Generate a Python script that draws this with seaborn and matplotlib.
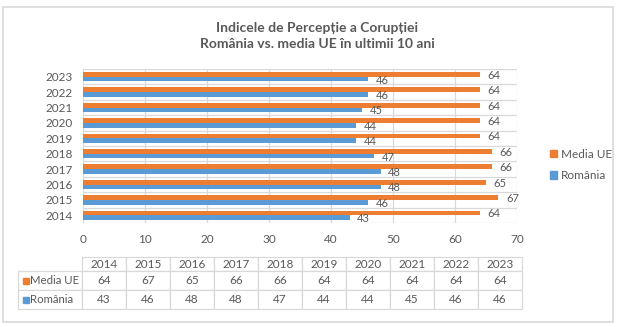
import matplotlib
matplotlib.use("Agg")
import matplotlib.pyplot as plt
import seaborn as sns
import pandas as pd
from matplotlib.patches import Rectangle

# ---- data ----
years = [2014, 2015, 2016, 2017, 2018, 2019, 2020, 2021, 2022, 2023]
media_ue = [64, 67, 65, 66, 66, 64, 64, 64, 64, 64]
romania = [43, 46, 48, 48, 47, 44, 44, 45, 46, 46]
series_names = ["Media UE", "România"]
colors = ["#ED7D31", "#5B9BD5"]
xticks = [0, 10, 20, 30, 40, 50, 60, 70]
title = "Indicele de Percepție a Corupției\nRomânia vs. media UE în ultimii 10 ani"

df = pd.DataFrame({
    "An": [str(y) for y in years] * 2,
    "Valoare": media_ue + romania,
    "Serie": [series_names[0]] * len(years) + [series_names[1]] * len(years),
})

sns.set_theme(style="white")
plt.rcParams["font.family"] = ["Lato", "DejaVu Sans"]
TXT = "#595959"
GRID = "#D9D9D9"

W, H = 630, 327
fig = plt.figure(figsize=(W / 100, H / 100), dpi=100)
fig.patch.set_facecolor("white")

ax_l, ax_r, ax_t, ax_b = 83, 517, 69, 223
ax = fig.add_axes([ax_l / W, 1 - ax_b / H, (ax_r - ax_l) / W, (ax_b - ax_t) / H])

order = [str(y) for y in years[::-1]]
sns.barplot(data=df, y="An", x="Valoare", hue="Serie", order=order,
            hue_order=series_names, palette=colors, orient="h", width=0.6,
            errorbar=None, saturation=1, legend=False, ax=ax, zorder=3,
            linewidth=0)

for cont in ax.containers:
    for rect in cont:
        w = rect.get_width()
        yc = rect.get_y() + rect.get_height() / 2
        ax.annotate(f"{w:g}", xy=(w, yc), xytext=(5.5, 0),
                    textcoords="offset points", ha="left", va="center_baseline",
                    fontsize=8, color=TXT, zorder=4)

ax.set_xlim(0, 70)
ax.set_ylim(len(years) - 0.5, -0.5)
ax.set_xticks(xticks)
ax.xaxis.grid(True, color=GRID, lw=0.9, zorder=0)
ax.yaxis.grid(False)
for i in range(len(years) + 1):
    ax.axhline(i - 0.5, color=GRID, lw=0.9, zorder=1)
for s in ax.spines.values():
    s.set_visible(False)
ax.set_xlabel("")
ax.set_ylabel("")
ax.tick_params(axis="x", length=0, pad=8, labelsize=8.5, labelcolor=TXT)
ax.tick_params(axis="y", length=0, pad=7.5, labelsize=8.5, labelcolor=TXT)

# title
fig.text(317 / W, 1 - 36 / H, title, ha="center", va="center", fontsize=10,
         fontweight="bold", color=TXT, linespacing=1.5)

# legend
handles = [Rectangle((0, 0), 1, 1, color=c) for c in colors]
fig.legend(handles, series_names, loc="center left",
           bbox_to_anchor=(550 / W, 1 - 165 / H), frameon=False, borderpad=0,
           borderaxespad=0, handlelength=0.6, handleheight=0.6,
           handletextpad=0.3, labelspacing=0.9, fontsize=8.5, labelcolor=TXT)

# data table
cell_text = [[""] + [str(y) for y in years],
             [series_names[0]] + [str(v) for v in media_ue],
             [series_names[1]] + [str(v) for v in romania]]
tx0, tx1, ty0, ty1 = 18, 522, 257, 309
bbox = [(tx0 - ax_l) / (ax_r - ax_l), (ax_b - ty1) / (ax_b - ax_t),
        (tx1 - tx0) / (ax_r - ax_l), (ty1 - ty0) / (ax_b - ax_t)]
col_w = [64] + [44] * len(years)
tbl = ax.table(cellText=cell_text, colWidths=col_w, cellLoc="center", bbox=bbox)
tbl.auto_set_font_size(False)
tbl.set_fontsize(8.5)
row_h = [14, 19, 19]
for (r, c), cell in tbl.get_celld().items():
    cell.set_height(row_h[r])
    cell.set_edgecolor(GRID)
    cell.set_linewidth(0.9)
    cell.get_text().set_color(TXT)
    if r == 0 and c == 0:
        cell.visible_edges = "open"
    if c == 0 and r > 0:
        cell.get_text().set_ha("left")
        cell.get_text().set_fontsize(8.2)
        cell.PAD = 0.19
        cell._loc = "left"

for i, col in enumerate(colors):
    cy = (271 + 290) / 2 if i == 0 else (290 + 309) / 2
    fig.add_artist(Rectangle((23 / W, 1 - (cy + 3) / H), 6 / W, 6 / H,
                             transform=fig.transFigure, color=col))

# outer border
fig.add_artist(Rectangle((3 / W, 1 - 322 / H), 610 / W, 315 / H, fill=False,
                         edgecolor=GRID, lw=1.2, transform=fig.transFigure))

fig.savefig("out.png", dpi=100)
